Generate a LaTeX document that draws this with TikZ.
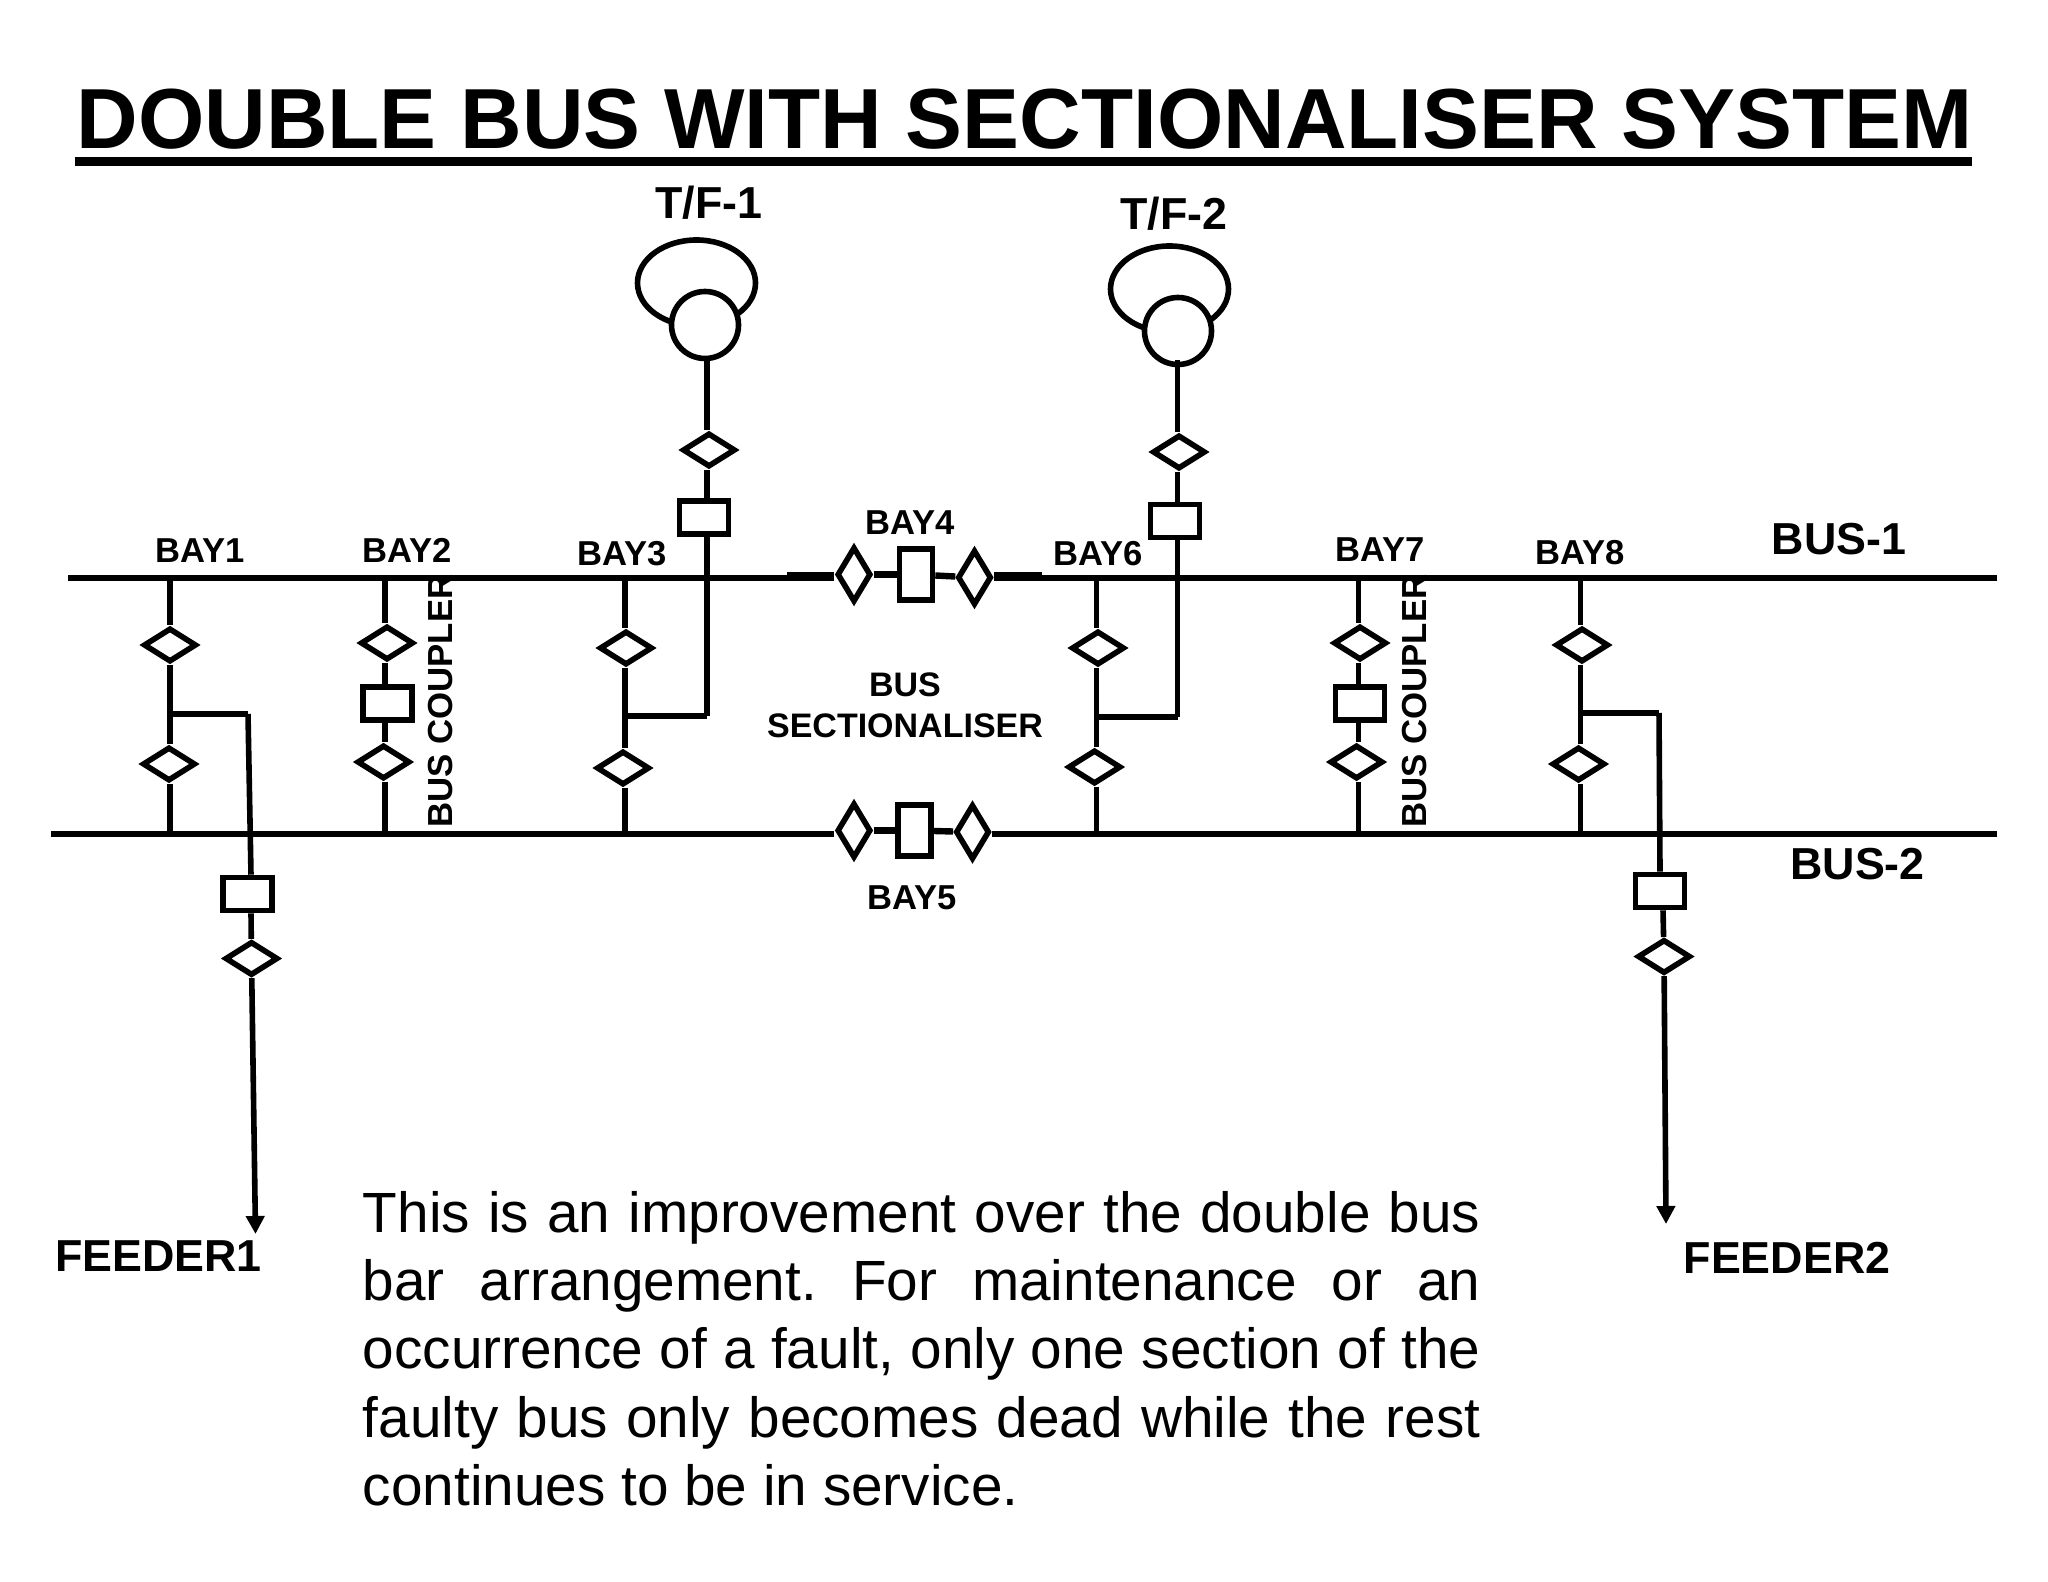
\documentclass[tikz,border=0pt]{standalone}
\usepackage{fontspec}
\setmainfont{Liberation Sans}
\usetikzlibrary{shapes.geometric,arrows.meta}
\tikzset{
  wire/.style={line width=2.8pt},
  busbar/.style={line width=3.2pt},
  dis/.style={diamond, draw, fill=white, line width=2.8pt, inner sep=0pt, minimum width=26.5pt, minimum height=17pt},
  disv/.style={diamond, draw, fill=white, line width=2.8pt, inner sep=0pt, minimum width=17pt, minimum height=27.5pt},
  brk/.style={rectangle, draw, fill=white, line width=2.8pt, inner sep=0pt, minimum width=24.5pt, minimum height=16.5pt},
  brkv/.style={rectangle, draw, fill=white, line width=2.8pt, inner sep=0pt, minimum width=16.5pt, minimum height=25.5pt},
  coil/.style={ellipse, draw, line width=2.8pt, inner sep=0pt, minimum width=59pt, minimum height=43pt},
  core/.style={circle, draw, fill=white, line width=2.8pt, inner sep=0pt, minimum size=33.5pt},
  baytxt/.style={inner sep=0pt, font=\bfseries\fontsize{17.3}{20.3}\selectfont},
  bigtxt/.style={inner sep=0pt, font=\bfseries\fontsize{22.4}{26}\selectfont},
  cpltxt/.style={inner sep=0pt, rotate=90, font=\bfseries\fontsize{17.4}{20}\selectfont}
}
\begin{document}
\begin{tikzpicture}[x=0.5pt, y=-0.5pt]
    \useasboundingbox (0,0) rectangle (2048,1582);

    % title
    \node[inner sep=0pt, font=\bfseries\fontsize{42.65}{48}\selectfont] (title) at (1024.5,119) {DOUBLE BUS WITH SECTIONALISER SYSTEM};
    \coordinate (ulL) at (75,162);
    \coordinate (ulR) at (1972,162);
    \draw[line width=4.5pt] (ulL) -- (ulR);

    % bus bars
    \coordinate (b1L) at (68,578);
    \coordinate (b1R) at (1997,578);
    \coordinate (b2L) at (51,834);
    \coordinate (b2R) at (1997,834);
    \coordinate (s4L) at (787,575.5);
    \coordinate (s4R) at (1042,575.5);
    \node[bigtxt] (bus1) at (1839,539) {BUS-1};
    \node[bigtxt] (bus2) at (1857.5,864) {BUS-2};

    % bay 1
    \coordinate (t1) at (170,578);
    \coordinate (j1) at (170,714);
    \coordinate (k1) at (248,714);
    \coordinate (e1) at (170,834);
    \node[baytxt] (bay1) at (200,551) {BAY1};
    \node[dis] (d11) at (170,645) {};
    \node[dis] (d12) at (169,764) {};
    \node[brk] (c1) at (247.5,894) {};
    \node[dis] (d13) at (251.5,958.5) {};
    \coordinate (f1) at (255.5,1234);
    \node[bigtxt] (feeder1) at (158.5,1256) {FEEDER1};

    % bay 2
    \coordinate (t2) at (385,578);
    \coordinate (e2) at (385,834);
    \node[baytxt] (bay2) at (407.5,550) {BAY2};
    \node[dis] (d21) at (387,643) {};
    \node[brk] (c2) at (387.5,703.5) {};
    \node[dis] (d22) at (383.5,762) {};
    \node[cpltxt] (cpl2) at (441,701) {BUS COUPLER};

    % bay 3 and T/F-1
    \coordinate (t3) at (625,578);
    \coordinate (j3) at (625,716);
    \coordinate (k3) at (707,716);
    \coordinate (e3) at (625,834);
    \node[baytxt] (bay3) at (622.5,554) {BAY3};
    \node[dis] (d31) at (626,648) {};
    \node[dis] (d32) at (623,768) {};
    \node[bigtxt] (tf1) at (709,203) {T/F-1};
    \node[coil] (coil1) at (696.5,283) {};
    \node[core] (core1) at (705,325) {};
    \node[dis] (d33) at (709,450) {};
    \node[brk] (c3) at (704,517.5) {};

    % bay 4, bay 5
    \node[baytxt] (bay4) at (910,522.5) {BAY4};
    \node[disv] (d41) at (854,574.5) {};
    \node[brkv] (c4) at (916,574.5) {};
    \node[disv] (d42) at (974.5,577.5) {};
    \node[baytxt, align=center, font=\bfseries\fontsize{17}{20.3}\selectfont] (sect) at (905,705) {BUS\\SECTIONALISER};
    \node[disv] (d51) at (854,830.5) {};
    \node[brkv] (c5) at (914.5,830.5) {};
    \node[disv] (d52) at (972.5,832) {};
    \node[baytxt] (bay5) at (912.5,898) {BAY5};

    % bay 6 and T/F-2
    \coordinate (t6) at (1096.5,578);
    \coordinate (j6) at (1096.5,717);
    \coordinate (k6) at (1177.5,717);
    \coordinate (e6) at (1096.5,834);
    \node[baytxt] (bay6) at (1098,554) {BAY6};
    \node[dis] (d61) at (1098,648) {};
    \node[dis] (d62) at (1094.5,767) {};
    \node[bigtxt] (tf2) at (1174,214) {T/F-2};
    \node[coil] (coil2) at (1169.5,289) {};
    \node[core] (core2) at (1178,331) {};
    \coordinate (s6) at (1177.5,360);
    \node[dis] (d63) at (1179,452) {};
    \node[brk] (c6) at (1175,521) {};

    % bay 7
    \coordinate (t7) at (1358.5,578);
    \coordinate (e7) at (1358.5,834);
    \node[baytxt] (bay7) at (1380,550) {BAY7};
    \node[dis] (d71) at (1360,643) {};
    \node[brk] (c7) at (1360,703.5) {};
    \node[dis] (d72) at (1356.5,762) {};
    \node[cpltxt] (cpl7) at (1414,701) {BUS COUPLER};

    % bay 8
    \coordinate (t8) at (1580.5,578);
    \coordinate (j8) at (1580.5,713);
    \coordinate (k8) at (1659,713);
    \coordinate (e8) at (1580.5,834);
    \node[baytxt] (bay8) at (1580.5,553) {BAY8};
    \node[dis] (d81) at (1582,645) {};
    \node[dis] (d82) at (1578.5,764) {};
    \node[brk] (c8) at (1660,891) {};
    \node[dis] (d83) at (1664,956.5) {};
    \coordinate (f8) at (1666,1224);
    \node[bigtxt] (feeder2) at (1787,1257.5) {FEEDER2};

    % connectors
    \draw[busbar] (b1L) -- (b1L -| d41.west);
    \draw[busbar] (b1R -| d42.east) -- (b1R);
    \draw[busbar] (s4L) -- (s4L -| d41.west);
    \draw[busbar] (s4R -| d42.east) -- (s4R);
    \draw[busbar] (d41) -- (c4);
    \draw[busbar] (c4) -- (d42);
    \draw[busbar] (b2L) -- (b2L -| d51.west);
    \draw[busbar] (d51) -- (c5);
    \draw[busbar] (c5) -- (d52);
    \draw[busbar] (b2R -| d52.east) -- (b2R);

    \draw[wire] (t1) -- (t1 |- d11.north);
    \draw[wire] (t1 |- d11.south) -- (t1 |- d12.north);
    \draw[wire] (t1 |- d12.south) -- (e1);
    \draw[wire] (j1) -- (k1);
    \draw[wire] (k1) -- ([xshift=1.75pt]c1.north);
    \draw[wire] ([xshift=1.75pt]c1.south) -- (d13);
    \draw[wire, -{Triangle[length=9pt,width=9pt]}] (d13) -- (f1);

    \draw[wire] (t2) -- (t2 |- d21.north);
    \draw[wire] (t2 |- d21.south) -- (t2 |- c2.north);
    \draw[wire] (t2 |- c2.south) -- (t2 |- d22.north);
    \draw[wire] (t2 |- d22.south) -- (e2);

    \draw[wire] (t3) -- (t3 |- d31.north);
    \draw[wire] (t3 |- d31.south) -- (t3 |- d32.north);
    \draw[wire] (t3 |- d32.south) -- (e3);
    \draw[wire] (j3) -- (k3);
    \draw[wire] (k3) -- (k3 |- c3.south);
    \draw[wire] (k3 |- c3.north) -- (k3 |- d33.south);
    \draw[wire] (k3 |- d33.north) -- (k3 |- core1.south);

    \draw[wire] (t6) -- (t6 |- d61.north);
    \draw[wire] (t6 |- d61.south) -- (t6 |- d62.north);
    \draw[wire] (t6 |- d62.south) -- (e6);
    \draw[wire] (j6) -- (k6);
    \draw[wire] (k6) -- (k6 |- c6.south);
    \draw[wire] (k6 |- c6.north) -- (k6 |- d63.south);
    \draw[wire] (k6 |- d63.north) -- (s6);

    \draw[wire] (t7) -- (t7 |- d71.north);
    \draw[wire] (t7 |- d71.south) -- (t7 |- c7.north);
    \draw[wire] (t7 |- c7.south) -- (t7 |- d72.north);
    \draw[wire] (t7 |- d72.south) -- (e7);

    \draw[wire] (t8) -- (t8 |- d81.north);
    \draw[wire] (t8 |- d81.south) -- (t8 |- d82.north);
    \draw[wire] (t8 |- d82.south) -- (e8);
    \draw[wire] (j8) -- (k8);
    \draw[wire] (k8) -- (c8.north);
    \draw[wire] ([xshift=1.5pt]c8.south) -- (d83);
    \draw[wire, -{Triangle[length=9pt,width=9pt]}] (d83) -- (f8);

    % note
    \node[inner sep=0pt, anchor=north west, text width=558.75pt, align=justify, font=\fontsize{28.35}{34.1}\selectfont] (note) at (362.5,1191) {\frenchspacing This is an improvement over the double bus\linebreak bar arrangement. For maintenance or an\linebreak occurrence of a fault, only one section of the\linebreak faulty bus only becomes dead while the rest\linebreak continues to be in service.};
\end{tikzpicture}
\end{document}
